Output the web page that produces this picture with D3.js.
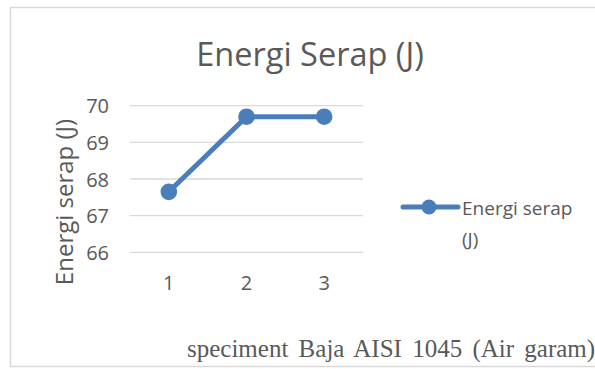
<!DOCTYPE html>
<html><head><meta charset="utf-8">
<script src="https://cdn.jsdelivr.net/npm/d3@7"></script>
<style>body{margin:0;background:#fff}svg{display:block}</style>
</head><body>
<script>
const categories = ["1","2","3"];
const values = [67.65, 69.7, 69.7];
const yTicks = [66,67,68,69,70];
const seriesName = "Energi serap (J)";
const chartTitle = "Energi Serap (J)";
const yTitle = "Energi serap (J)";
const caption = "speciment Baja AISI 1045 (Air garam)";

const W=595,H=369;
const svg=d3.select("body").append("svg").attr("width",W).attr("height",H);
const font="'Open Sans', Calibri, sans-serif";
const col="#4a7ebb", txt="#595959";

// frame
svg.append("path").attr("d",`M${W+5},7.5 H10.5 V366.5 H${W+5}`).attr("fill","none").attr("stroke","#d9d9d9").attr("stroke-width",1.5);

const x=d3.scaleBand().domain(categories).range([130,363]);
const y=d3.scaleLinear().domain([66,70]).range([252.3,105.7]);

// grid
svg.append("g").selectAll("line").data(yTicks).join("line")
 .attr("x1",130).attr("x2",363).attr("y1",d=>y(d)).attr("y2",d=>y(d))
 .attr("stroke","#d9d9d9").attr("stroke-width",1.3);

const yAxis=svg.append("g").attr("transform","translate(109,0)")
 .call(d3.axisLeft(y).tickValues(yTicks).tickFormat(d3.format("d")).tickSize(0).tickPadding(0));
yAxis.select(".domain").remove();
yAxis.selectAll("text").attr("font-family",font).attr("font-size",20).attr("fill",txt).attr("dy","0.36em");

const xAxis=svg.append("g").attr("transform","translate(0,276)")
 .call(d3.axisBottom(x).tickSize(0).tickPadding(0));
xAxis.select(".domain").remove();
xAxis.selectAll("text").attr("font-family",font).attr("font-size",20).attr("fill",txt).attr("dy","0.71em");

const cx=d=>x(d)+x.bandwidth()/2;
const line=d3.line().x((d,i)=>cx(categories[i])).y(d=>y(d));
svg.append("path").datum(values).attr("d",line).attr("fill","none").attr("stroke",col).attr("stroke-width",5).attr("stroke-linejoin","round");
svg.append("g").selectAll("circle").data(values).join("circle")
 .attr("cx",(d,i)=>cx(categories[i])).attr("cy",d=>y(d)).attr("r",8.3).attr("fill",col);

// title
svg.append("text").attr("x",310).attr("y",66).attr("text-anchor","middle")
 .attr("font-family",font).attr("font-size",32.5).attr("fill",txt).text(chartTitle);

// y title
svg.append("text").attr("transform","translate(73,202) rotate(-90)").attr("text-anchor","middle")
 .attr("font-family",font).attr("font-size",24).attr("fill",txt).text(yTitle);

// legend
const lg=svg.append("g");
lg.append("line").attr("x1",403).attr("x2",458).attr("y1",207).attr("y2",207).attr("stroke",col).attr("stroke-width",5).attr("stroke-linecap","round");
lg.append("circle").attr("cx",429).attr("cy",207).attr("r",7.5).attr("fill",col);
const parts=seriesName.split(" ");
const lt=lg.append("text").attr("font-family",font).attr("font-size",19).attr("fill",txt);
lt.append("tspan").attr("x",462).attr("y",215).text(parts.slice(0,2).join(" "));
lt.append("tspan").attr("x",462).attr("y",246).text(parts.slice(2).join(" "));

// caption
svg.append("text").attr("x",187).attr("y",357).attr("font-family","'Liberation Serif', 'Times New Roman', serif")
 .attr("font-size",25).attr("word-spacing",4).attr("fill",txt).text(caption);
</script>
</body></html>
